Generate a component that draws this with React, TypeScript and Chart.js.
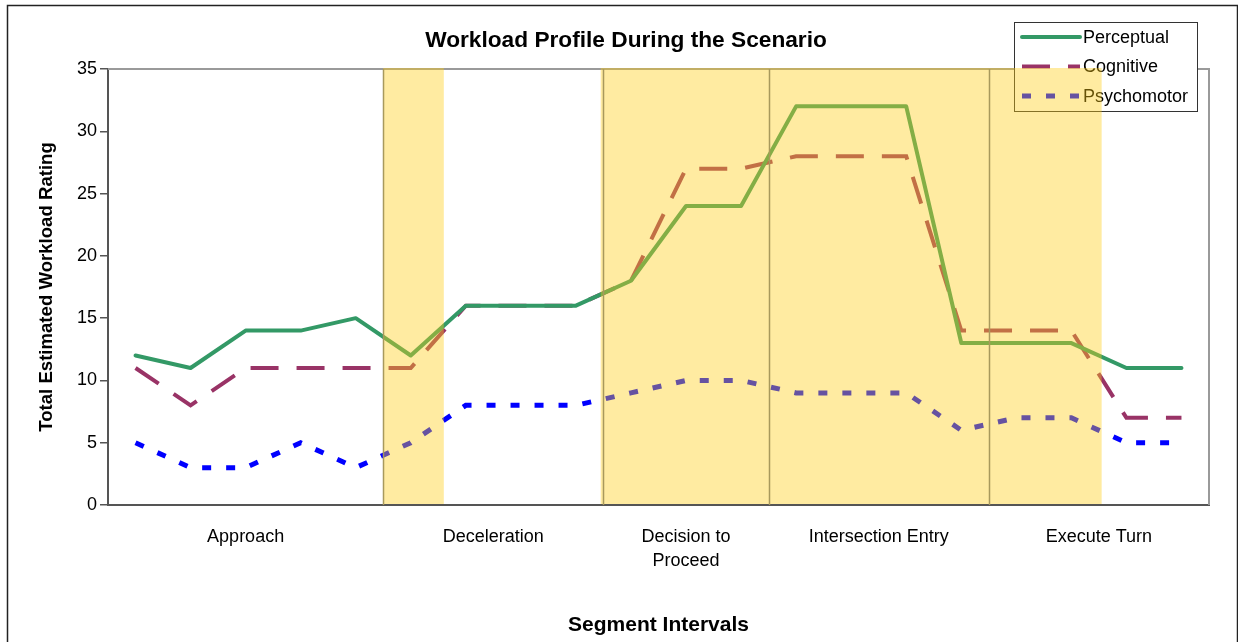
import React, { useEffect, useRef } from "react";
import { Chart, registerables } from "chart.js";

Chart.register(...registerables);

const FONT = "'Liberation Sans', Arial, Helvetica, sans-serif";

const chartTitle = "Workload Profile During the Scenario";
const yAxisTitle = "Total Estimated Workload Rating";
const xAxisTitle = "Segment Intervals";

const seriesNames = ["Perceptual", "Cognitive", "Psychomotor"];

// Segment (x tick) labels and the interval indices each segment covers
const segmentNames: string[][] = [
  ["Approach"],
  ["Deceleration"],
  ["Decision to", "Proceed"],
  ["Intersection Entry"],
  ["Execute Turn"],
];
const segmentStart = [0, 5, 9, 12, 16];
const segmentEnd = [4, 8, 11, 15, 19];

// Series values, one per interval (20 intervals)
const perceptual = [12, 11, 14, 14, 15, 12, 16, 16, 16, 18, 24, 24, 32, 32, 32, 13, 13, 13, 11, 11];
const cognitive = [11, 8, 11, 11, 11, 11, 16, 16, 16, 18, 27, 27, 28, 28, 28, 14, 14, 14, 7, 7];
const psychomotor = [5, 3, 3, 5, 3, 5, 8, 8, 8, 9, 10, 10, 9, 9, 9, 6, 7, 7, 5, 5];

// Shaded (highlighted) interval ranges, in interval units
const shadedFrom = [4.5, 8.45];
const shadedTo = [5.6, 17.55];

// y axis
const yMin = 0;
const yMax = 35;
const yStep = 5;

const mids = segmentStart.map((s, i) => (s + segmentEnd[i]) / 2);

const overlayPlugin = {
  id: "overlay",
  beforeDraw(chart: any) {
    const { ctx, width, height } = chart;
    ctx.save();
    ctx.fillStyle = "#ffffff";
    ctx.fillRect(0, 0, width, height);
    ctx.restore();
  },
  afterDraw(chart: any) {
    const { ctx, chartArea: a } = chart;
    const x = chart.scales.x;
    ctx.save();

    // plot-area border (top & right)
    ctx.strokeStyle = "#9a9a9a";
    ctx.lineWidth = 2;
    ctx.beginPath();
    ctx.moveTo(a.left, a.top);
    ctx.lineTo(a.right, a.top);
    ctx.lineTo(a.right, a.bottom);
    ctx.stroke();

    // legend
    const lx = 1014, ly = 22, lw = 183, lh = 89;
    ctx.fillStyle = "#ffffff";
    ctx.fillRect(lx, ly, lw, lh);
    ctx.strokeStyle = "#333333";
    ctx.lineWidth = 1;
    ctx.strokeRect(lx + 0.5, ly + 0.5, lw, lh);
    chart.data.datasets.forEach((ds: any, i: number) => {
      const y = 37 + i * 29.5;
      ctx.strokeStyle = ds.borderColor;
      ctx.lineWidth = ds.borderWidth;
      ctx.setLineDash(ds.borderDash || []);
      ctx.lineCap = i === 0 ? "round" : "butt";
      ctx.beginPath();
      ctx.moveTo(1022, y);
      ctx.lineTo(1080, y);
      ctx.stroke();
      ctx.setLineDash([]);
      ctx.fillStyle = "#000000";
      ctx.font = `18px ${FONT}`;
      ctx.textAlign = "left";
      ctx.textBaseline = "middle";
      ctx.fillText(ds.label, 1083, y + 1);
    });

    // shaded bands
    ctx.fillStyle = "rgba(255, 205, 20, 0.40)";
    shadedFrom.forEach((f, i) => {
      const x0 = x.getPixelForValue(f);
      const x1 = x.getPixelForValue(shadedTo[i]);
      ctx.fillRect(x0, a.top - 1, x1 - x0, a.bottom - a.top);
    });

    // segment boundaries
    ctx.strokeStyle = "#a8995c";
    ctx.lineWidth = 1.5;
    for (let i = 0; i < segmentStart.length - 1; i++) {
      const v = (segmentEnd[i] + segmentStart[i + 1]) / 2;
      const px = Math.round(x.getPixelForValue(v)) + 0.5;
      ctx.beginPath();
      ctx.moveTo(px, a.top);
      ctx.lineTo(px, a.bottom);
      ctx.stroke();
    }

    // chart title
    ctx.fillStyle = "#000000";
    ctx.font = `bold 22.7px ${FONT}`;
    ctx.textAlign = "center";
    ctx.textBaseline = "middle";
    ctx.fillText(chartTitle, 626, 41);

    // outer border
    ctx.strokeStyle = "#222222";
    ctx.lineWidth = 1.5;
    ctx.strokeRect(7.5, 5.5, 1230, 700);

    ctx.restore();
  },
};

export default function App() {
  const ref = useRef<HTMLCanvasElement>(null);

  useEffect(() => {
    document.body.style.margin = "0";
    const canvas = ref.current;
    if (!canvas) return;
    const toPts = (arr: number[]) => arr.map((y, i) => ({ x: i, y }));

    const chart = new Chart(canvas, {
      type: "line",
      data: {
        datasets: [
          {
            label: seriesNames[0],
            data: toPts(perceptual),
            borderColor: "#339966",
            borderWidth: 4,
            pointRadius: 0,
            tension: 0,
            fill: false,
            borderJoinStyle: "round",
            borderCapStyle: "round",
          },
          {
            label: seriesNames[1],
            data: toPts(cognitive),
            borderColor: "#993366",
            borderWidth: 4,
            borderDash: [28, 18],
            pointRadius: 0,
            tension: 0,
            fill: false,
            borderCapStyle: "butt",
          },
          {
            label: seriesNames[2],
            data: toPts(psychomotor),
            borderColor: "#0000ff",
            borderWidth: 5,
            borderDash: [9, 15],
            pointRadius: 0,
            tension: 0,
            fill: false,
            borderCapStyle: "butt",
          },
        ],
      },
      options: {
        responsive: false,
        animation: false,
        devicePixelRatio: 1,
        layout: { padding: { left: 0, right: 29, top: 69, bottom: 0 } },
        plugins: {
          legend: { display: false },
          title: { display: false },
          tooltip: { enabled: false },
        },
        scales: {
          x: {
            type: "linear",
            min: -0.5,
            max: 19.5,
            afterBuildTicks: (s: any) => {
              s.ticks = mids.map((v) => ({ value: v }));
            },
            afterFit: (s: any) => {
              s.height = 137;
            },
            grid: { display: false, drawTicks: false },
            border: { display: true, color: "#555555", width: 2 },
            ticks: {
              autoSkip: false,
              maxRotation: 0,
              padding: 20,
              color: "#000000",
              font: { family: FONT, size: 18, lineHeight: 1.333 },
              callback: (v: any) => {
                const i = mids.indexOf(Number(v));
                return i >= 0 ? segmentNames[i] : "";
              },
            },
            title: {
              display: true,
              text: xAxisTitle,
              color: "#000000",
              font: { family: FONT, size: 21, weight: "bold" },
              padding: { top: 0, bottom: 4 },
            },
          },
          y: {
            min: yMin,
            max: yMax,
            ticks: {
              stepSize: yStep,
              padding: 3,
              color: "#000000",
              font: { family: FONT, size: 18 },
            },
            afterFit: (s: any) => {
              s.width = 108;
            },
            grid: {
              display: true,
              drawOnChartArea: false,
              drawTicks: true,
              tickLength: 8,
              color: "#555555",
              lineWidth: 1.5,
            },
            border: { display: true, color: "#555555", width: 2 },
            title: {
              display: true,
              text: yAxisTitle,
              color: "#000000",
              font: { family: FONT, size: 18.6, weight: "bold" },
              padding: { top: 36, bottom: 0 },
            },
          },
        },
      } as any,
      plugins: [overlayPlugin],
    });
    return () => chart.destroy();
  }, []);

  return (
    <div style={{ position: "absolute", left: 0, top: 0, width: 1238, height: 642 }}>
      <canvas ref={ref} width={1238} height={642} style={{ display: "block" }} />
    </div>
  );
}
